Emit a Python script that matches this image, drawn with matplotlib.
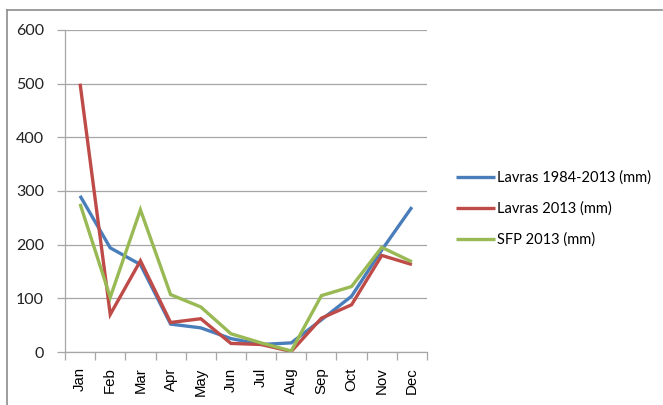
import matplotlib
matplotlib.use("Agg")
import matplotlib.pyplot as plt
from matplotlib.lines import Line2D
import numpy as np

months = ["Jan", "Feb", "Mar", "Apr", "May", "Jun", "Jul", "Aug", "Sep", "Oct", "Nov", "Dec"]
lavras_normal = [291, 194, 163, 52, 45, 25, 14, 17, 60, 104, 190, 270]
lavras_2013 = [500, 70, 170, 55, 62, 16, 14, 1, 63, 88, 180, 163]
sfp_2013 = [276, 102, 265, 107, 84, 34, 17, 2, 105, 122, 195, 168]
series_names = ["Lavras 1984-2013 (mm)", "Lavras 2013 (mm)", "SFP 2013 (mm)"]
colors = ["#4A7EBB", "#BE4B48", "#98B954"]
yticks = [0, 100, 200, 300, 400, 500, 600]

fig = plt.figure(figsize=(6.63, 4.05), dpi=100)
W, H = 663, 405
ax = fig.add_axes([65 / W, 1 - 352 / H, (427 - 65) / W, (352 - 30) / H])

x = np.arange(len(months))
for vals, c, name in zip([lavras_normal, lavras_2013, sfp_2013], colors, series_names):
    ax.plot(x, vals, color=c, lw=2.4, label=name, solid_joinstyle="miter", solid_capstyle="butt")

ax.set_xlim(-0.5, len(months) - 0.5)
ax.set_ylim(0, 600)
ax.set_yticks(yticks)
ax.set_yticklabels([str(v) for v in yticks], family="Lato", fontsize=11.5, color="#222222")
ax.yaxis.grid(True, color="#A6A6A6", lw=0.9)
ax.set_axisbelow(True)

ax.set_xticks(x)
ax.set_xticklabels(months, rotation=90, family="Liberation Sans", fontsize=10.8, color="#000000")
ax.tick_params(axis="x", which="major", length=0, pad=11)
ax.set_xticks(np.arange(-0.5, len(months), 1.0), minor=True)
ax.tick_params(axis="x", which="minor", length=6, color="#A6A6A6", width=0.9, direction="out")
ax.tick_params(axis="y", length=6, color="#A6A6A6", width=0.9, direction="out", pad=9)

for s in ["top", "right"]:
    ax.spines[s].set_visible(False)
for s in ["left", "bottom"]:
    ax.spines[s].set_color("#A6A6A6")
    ax.spines[s].set_linewidth(0.9)

leg = fig.legend(loc="upper left", bbox_to_anchor=(450 / W, 1 - 165 / H), frameon=False,
                 prop={"family": "Lato", "size": 10.5}, handlelength=2.7, handletextpad=0.15,
                 labelspacing=1.13, borderaxespad=0)

# outer chart border (left and top edges visible)
fig.add_artist(Line2D([7 / W, 7 / W], [0, 1 - 10 / H], transform=fig.transFigure, color="#8C8C8C", lw=1.2))
fig.add_artist(Line2D([7 / W, 662 / W], [1 - 10 / H, 1 - 10 / H], transform=fig.transFigure, color="#8C8C8C", lw=1.2))

fig.savefig("out.png", dpi=100)
